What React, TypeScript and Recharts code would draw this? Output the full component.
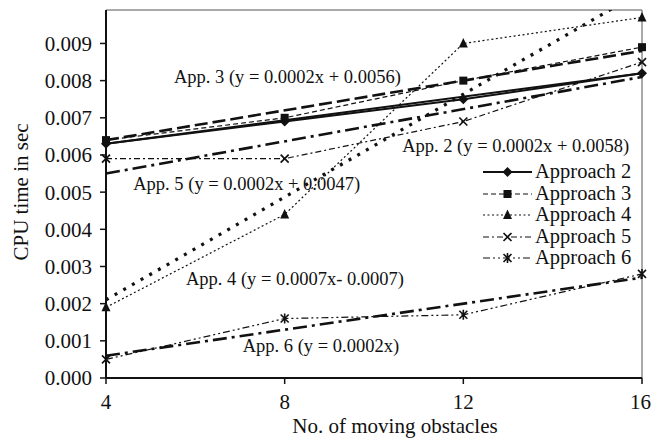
import React from 'react';
import {
  LineChart,
  Line,
  XAxis,
  YAxis,
  Legend,
  ReferenceLine,
  ReferenceDot,
} from 'recharts';

// CPU time (sec) per number of moving obstacles
const obstacles = [4, 8, 12, 16];
const approach2 = [0.0063, 0.0069, 0.0075, 0.0082];
const approach3 = [0.0064, 0.007, 0.008, 0.0089];
const approach4 = [0.0019, 0.0044, 0.009, 0.0097];
const approach5 = [0.0059, 0.0059, 0.0069, 0.0085];
const approach6 = [0.0005, 0.0016, 0.0017, 0.0028];

// linear trend lines, end points at 4 and 16 obstacles
const trendX = [4, 16];
const trend2 = [0.0063, 0.0082];
const trend3 = [0.0064, 0.0088];
const trend4 = [0.0021, 0.0104];
const trend5 = [0.0055, 0.0081];
const trend6 = [0.0006, 0.0027];

const seriesNames = ['Approach 2', 'Approach 3', 'Approach 4', 'Approach 5', 'Approach 6'];
const trendLabels = [
  'App. 3 (y = 0.0002x + 0.0056)',
  'App. 2 (y = 0.0002x + 0.0058)',
  'App. 5 (y = 0.0002x + 0.0047)',
  'App. 4 (y = 0.0007x- 0.0007)',
  'App. 6 (y = 0.0002x)',
];
const xTicks = [4, 8, 12, 16];
const yTicks = [0, 0.001, 0.002, 0.003, 0.004, 0.005, 0.006, 0.007, 0.008, 0.009];
const yMax = 0.0099;

const toPoints = (xs: number[], ys: number[]) => xs.map((x, i) => ({ x, y: ys[i] }));

const FONT = '"Liberation Serif", "Times New Roman", serif';
const INK = '#111';

type MarkerKind = 'diamond' | 'square' | 'triangle' | 'cross' | 'star';

const Marker = ({ kind, cx, cy }: { kind: MarkerKind; cx: number; cy: number }) => {
  switch (kind) {
    case 'diamond':
      return <polygon points={`${cx},${cy - 5} ${cx + 5},${cy} ${cx},${cy + 5} ${cx - 5},${cy}`} fill={INK} />;
    case 'square':
      return <rect x={cx - 4} y={cy - 4} width={8} height={8} fill={INK} />;
    case 'triangle':
      return <polygon points={`${cx},${cy - 5.5} ${cx + 4.5},${cy + 4} ${cx - 4.5},${cy + 4}`} fill={INK} />;
    case 'cross':
      return (
        <path
          d={`M${cx - 4},${cy - 4}L${cx + 4},${cy + 4}M${cx - 4},${cy + 4}L${cx + 4},${cy - 4}`}
          stroke={INK}
          strokeWidth={1.7}
        />
      );
    default:
      return (
        <path
          d={`M${cx - 4},${cy - 4}L${cx + 4},${cy + 4}M${cx - 4},${cy + 4}L${cx + 4},${cy - 4}M${cx},${cy - 5}L${cx},${cy + 5}`}
          stroke={INK}
          strokeWidth={1.6}
        />
      );
  }
};

const seriesStyle: { data: number[]; marker: MarkerKind; dash?: string; width: number }[] = [
  { data: approach2, marker: 'diamond', width: 2 },
  { data: approach3, marker: 'square', dash: '5 3', width: 1.2 },
  { data: approach4, marker: 'triangle', dash: '2 2.5', width: 1.2 },
  { data: approach5, marker: 'cross', dash: '6 3 2 3', width: 1.2 },
  { data: approach6, marker: 'star', dash: '7 3 2 3 2 3', width: 1.2 },
];

const trendStyle: { data: number[]; dash?: string; width: number }[] = [
  { data: trend2, width: 2 },
  { data: trend3, dash: '13 5', width: 2.6 },
  { data: trend4, dash: '3 7', width: 3.2 },
  { data: trend5, dash: '14 5 3 5', width: 2.6 },
  { data: trend6, dash: '14 5 3 5', width: 2.6 },
];

const LegendBox = () => (
  <div style={{ fontFamily: FONT, fontSize: 20.5, color: INK, lineHeight: '21.5px' }}>
    {seriesNames.map((name, i) => (
      <div key={name} style={{ display: 'flex', alignItems: 'center', height: 21.5 }}>
        <svg width={49} height={21.5} style={{ marginRight: 3 }}>
          <line
            x1={0}
            x2={49}
            y1={11}
            y2={11}
            stroke={INK}
            strokeWidth={seriesStyle[i].width}
            strokeDasharray={seriesStyle[i].dash}
          />
          <Marker kind={seriesStyle[i].marker} cx={24.5} cy={11} />
        </svg>
        <span>{name}</span>
      </div>
    ))}
  </div>
);

const Annotation = ({ x, y, text }: { x: number; y: number; text: string }) => (
  <ReferenceDot
    x={x}
    y={y}
    r={1}
    ifOverflow="visible"
    shape={(p: any) => (
      <text x={p.cx} y={p.cy} fontFamily={FONT} fontSize={18.5} fill={INK}>
        {text}
      </text>
    )}
  />
);

const App = () => {
  return (
    <div style={{ position: 'absolute', left: 0, top: 0, width: 651, height: 442, background: '#fff' }}>
      <LineChart width={651} height={442} margin={{ top: 10, right: 9, left: 0, bottom: 0 }}>
        <XAxis
          dataKey="x"
          type="number"
          domain={[4, 16]}
          ticks={xTicks}
          height={64}
          tickSize={6}
          tickMargin={10}
          axisLine={{ stroke: INK, strokeWidth: 2 }}
          tickLine={{ stroke: INK, strokeWidth: 1.5 }}
          tick={{ fill: INK, fontFamily: FONT, fontSize: 21 }}
          allowDuplicatedCategory={false}
          label={{
            content: ({ viewBox }: any) => (
              <text
                x={viewBox.x + viewBox.width / 2 + 21}
                y={viewBox.y + viewBox.height - 9}
                textAnchor="middle"
                fontFamily={FONT}
                fontSize={21}
                fill={INK}
              >
                No. of moving obstacles
              </text>
            ),
          }}
        />
        <YAxis
          dataKey="y"
          type="number"
          domain={[0, yMax]}
          ticks={yTicks}
          allowDataOverflow
          width={106}
          tickSize={6}
          tickMargin={8}
          tickFormatter={(v: number) => v.toFixed(3)}
          axisLine={{ stroke: INK, strokeWidth: 2 }}
          tickLine={{ stroke: INK, strokeWidth: 1.5 }}
          tick={{ fill: INK, fontFamily: FONT, fontSize: 21 }}
          label={{
            content: ({ viewBox }: any) => {
              const cx = viewBox.x + 28;
              const cy = viewBox.y + viewBox.height / 2 - 2;
              return (
                <text
                  x={cx}
                  y={cy}
                  transform={`rotate(-90 ${cx} ${cy})`}
                  textAnchor="middle"
                  fontFamily={FONT}
                  fontSize={21}
                  fill={INK}
                >
                  CPU time in sec
                </text>
              );
            },
          }}
        />
        <ReferenceLine y={yMax} stroke="#555" strokeWidth={1} />
        <ReferenceLine x={16} stroke="#555" strokeWidth={1} />

        {trendStyle.map((t, i) => (
          <Line
            key={`trend-${i}`}
            data={toPoints(trendX, t.data)}
            dataKey="y"
            type="linear"
            stroke={INK}
            strokeWidth={t.width}
            strokeDasharray={t.dash}
            dot={false}
            activeDot={false}
            legendType="none"
            isAnimationActive={false}
          />
        ))}

        {seriesStyle.map((s, i) => (
          <Line
            key={seriesNames[i]}
            name={seriesNames[i]}
            data={toPoints(obstacles, s.data)}
            dataKey="y"
            type="linear"
            stroke={INK}
            strokeWidth={s.width}
            strokeDasharray={s.dash}
            dot={(p: any) => <Marker key={`${i}-${p.index}`} kind={s.marker} cx={p.cx} cy={p.cy} />}
            activeDot={false}
            isAnimationActive={false}
          />
        ))}

        <Annotation x={5.52} y={0.00793} text={trendLabels[0]} />
        <Annotation x={10.63} y={0.00608} text={trendLabels[1]} />
        <Annotation x={4.61} y={0.00505} text={trendLabels[2]} />
        <Annotation x={5.79} y={0.0025} text={trendLabels[3]} />
        <Annotation x={7.06} y={0.0007} text={trendLabels[4]} />

        <Legend
          layout="vertical"
          align="center"
          verticalAlign="middle"
          content={() => <LegendBox />}
          wrapperStyle={{ position: 'absolute', top: 161, left: 483, width: 'auto', height: 'auto' }}
        />
      </LineChart>
    </div>
  );
};

export default App;
